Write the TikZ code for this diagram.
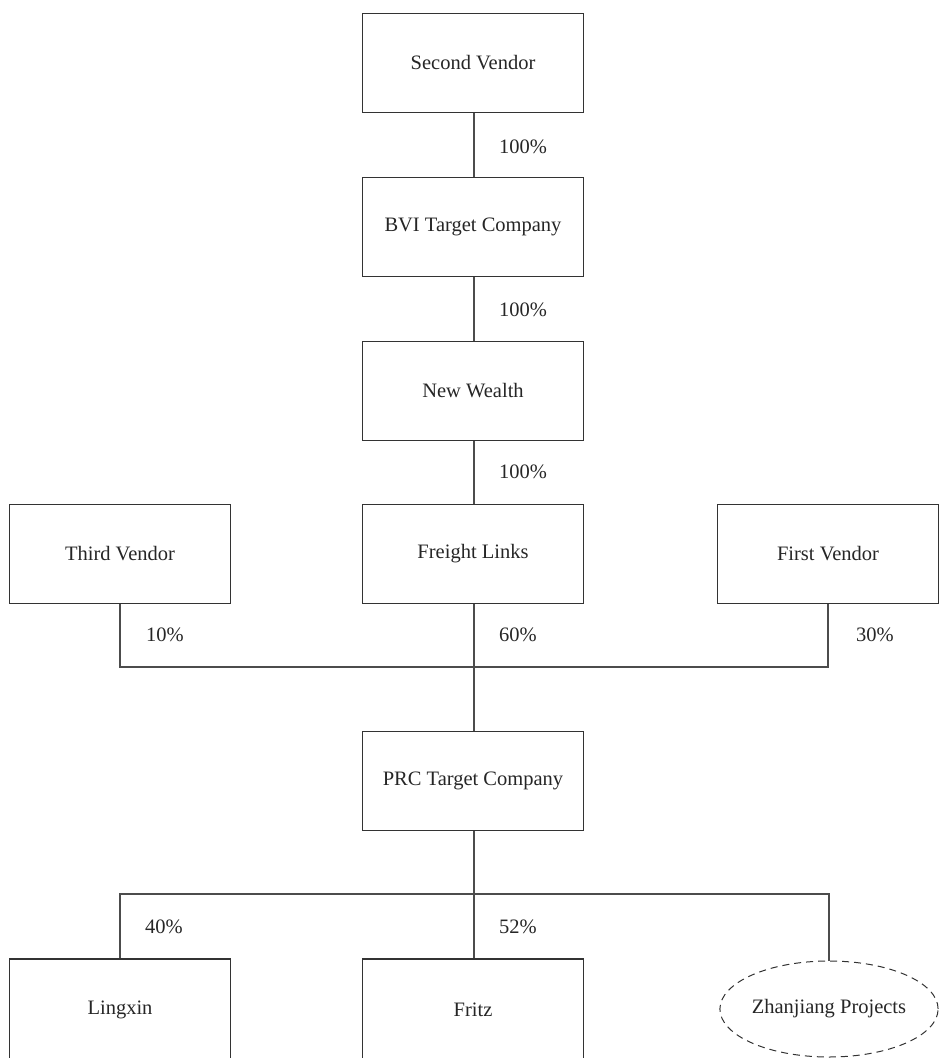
\documentclass[tikz,border=0pt]{standalone}
\usepackage{fontspec}
\setmainfont{Liberation Serif}
\usetikzlibrary{shapes.geometric}
\begin{document}
\begin{tikzpicture}[x=1pt,y=-1pt,
  every node/.style={text=black!85, font=\fontsize{20.5}{24}\selectfont},
  boxnode/.style={draw=black!80, line width=1.2pt, minimum width=221pt, minimum height=99pt, inner sep=0pt},
  link/.style={draw=black!70, line width=1.2pt},
  pct/.style={anchor=west, inner sep=0pt}]
\useasboundingbox (0,0) rectangle (939,1058);
\clip (0,0) rectangle (939,1058);
\node[boxnode] (sv) at (473,63) {Second Vendor};
\node[boxnode] (bvi) at (473,227) {BVI Target Company};
\node[boxnode] (nw) at (473,391) {New Wealth};
\node[boxnode] (fl) at (473,554) {Freight Links};
\node[boxnode] (tv) at (120,554) {Third Vendor};
\node[boxnode] (fv) at (828,554) {First Vendor};
\node[boxnode] (prc) at (473,781) {PRC Target Company};
\node[boxnode, minimum height=104pt] (lx) at (120,1011) {};
\node at (120,1010) (lxt) {Lingxin};
\node[boxnode, minimum height=104pt] (fz) at (473,1011) {};
\node at (473,1010) (fzt) {Fritz};
\node[draw=black!80, line width=1pt, dashed, dash pattern=on 7pt off 5pt, ellipse, minimum width=216pt, minimum height=96pt, inner sep=0pt] (zj) at (829,1009) {Zhanjiang Projects};
\coordinate (j1) at (474,667);
\coordinate (j2) at (474,894);
\draw[link] (sv.south -| 474,0) -- (bvi.north -| 474,0);
\draw[link] (bvi.south -| 474,0) -- (nw.north -| 474,0);
\draw[link] (nw.south -| 474,0) -- (fl.north -| 474,0);
\draw[link] (tv.south) |- (j1) -| (fv.south);
\draw[link] (fl.south -| 474,0) -- (j1) -- (prc.north -| 474,0);
\draw[link] (prc.south -| 474,0) -- (j2);
\draw[link] (lx.north) |- (j2) -| (zj.north);
\draw[link] (j2) -- (fz.north -| 474,0);
\node[pct] (p1) at (499,147) {100\%};
\node[pct] (p2) at (499,310) {100\%};
\node[pct] (p3) at (499,472) {100\%};
\node[pct] (p4) at (146,635) {10\%};
\node[pct] (p5) at (499,635) {60\%};
\node[pct] (p6) at (856,635) {30\%};
\node[pct] (p7) at (145,927) {40\%};
\node[pct] (p8) at (499,927) {52\%};
\end{tikzpicture}
\end{document}
